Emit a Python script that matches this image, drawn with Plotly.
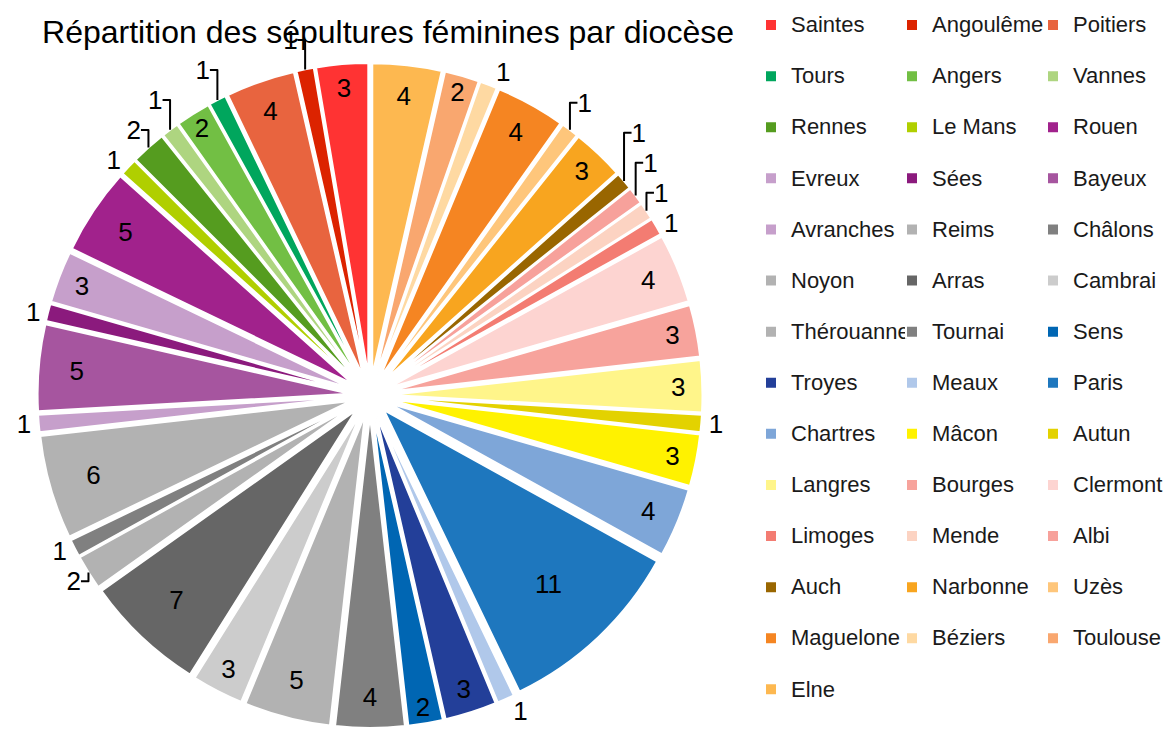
import plotly.graph_objects as go

# ---- data ----
dioceses = ["Saintes", "Angoulême", "Poitiers", "Tours", "Angers", "Vannes", "Rennes",
            "Le Mans", "Rouen", "Evreux", "Sées", "Bayeux", "Avranches", "Reims",
            "Châlons", "Noyon", "Arras", "Cambrai", "Thérouanne", "Tournai", "Sens",
            "Troyes", "Meaux", "Paris", "Chartres", "Mâcon", "Autun", "Langres",
            "Bourges", "Clermont", "Limoges", "Mende", "Albi", "Auch", "Narbonne",
            "Uzès", "Maguelone", "Béziers", "Toulouse", "Elne"]
sepultures = [3, 1, 4, 1, 2, 1, 2, 1, 5, 3, 1, 5, 1, 6, 1, 2, 7, 3, 5, 4, 2, 3, 1, 11,
              4, 3, 1, 3, 3, 4, 1, 1, 1, 1, 3, 1, 4, 1, 2, 4]
title_text = "Répartition des sépultures féminines par diocèse"

# ---- styles ----
colors = ["#ff3333", "#dc2300", "#e8643f", "#00a65d", "#72bf44", "#aed580", "#559c1f",
          "#b0cf00", "#a1228c", "#c69fcb", "#8b1a7d", "#a6559f", "#c69fcb", "#b2b2b2",
          "#808080", "#b2b2b2", "#666666", "#cccccc", "#b2b2b2", "#808080", "#0066b3",
          "#233f99", "#b0c8ea", "#1e77be", "#7ea6d8", "#fff200", "#e3d200", "#fff58a",
          "#f7a39c", "#fdd4d1", "#f37c72", "#fcd3c2", "#f7a19b", "#996600", "#f8a51f",
          "#fec67b", "#f58522", "#fed9a2", "#f9a76f", "#fdb850"]
text_pos = ["inside" if (v >= 3 or d in ("Angers", "Toulouse", "Sens")) else "outside"
            for d, v in zip(dioceses, sepultures)]
FONT = "Liberation Sans"
legend_labels = [f"<span style='font-size:22px'>{d}</span><br>&nbsp;" for d in dioceses]

# first slice must start at 12 o'clock and run counterclockwise
start_rotation = -360.0 * sepultures[0] / sum(sepultures)

W, H = 1164, 736
plot_w = 715

fig = go.Figure(go.Pie(
    labels=legend_labels,
    values=sepultures,
    sort=False,
    direction="counterclockwise",
    rotation=start_rotation,
    pull=0.065,
    marker=dict(colors=colors, line=dict(color="white", width=2)),
    textinfo="value",
    textposition=text_pos,
    insidetextorientation="horizontal",
    textfont=dict(family=FONT, size=26, color="black"),
    domain=dict(x=[37 / plot_w, 703 / plot_w], y=[1 - 728 / H, 1 - 63 / H]),
    hoverinfo="label+value",
))

fig.update_layout(
    width=W, height=H,
    margin=dict(l=0, r=W - plot_w, t=0, b=0, autoexpand=False),
    paper_bgcolor="white", plot_bgcolor="white",
    font=dict(family=FONT, color="black"),
    title=dict(text=title_text, x=388 / W, xanchor="center", y=1 - 32 / H, yanchor="middle",
               font=dict(family=FONT, size=32, color="black")),
    legend=dict(orientation="h", x=727 / plot_w, xanchor="left", y=1 + 17.5 / H, yanchor="top",
                entrywidth=96, entrywidthmode="pixels", valign="top", maxheight=900,
                font=dict(family=FONT, size=18.5, color="#1a1a1a"),
                bgcolor="rgba(0,0,0,0)", bordercolor="rgba(0,0,0,0)", borderwidth=24),
)

fig.write_html("out.html",
               config={"displayModeBar": False},
               post_script="document.body.style.margin='0';document.body.style.overflow='hidden';")
